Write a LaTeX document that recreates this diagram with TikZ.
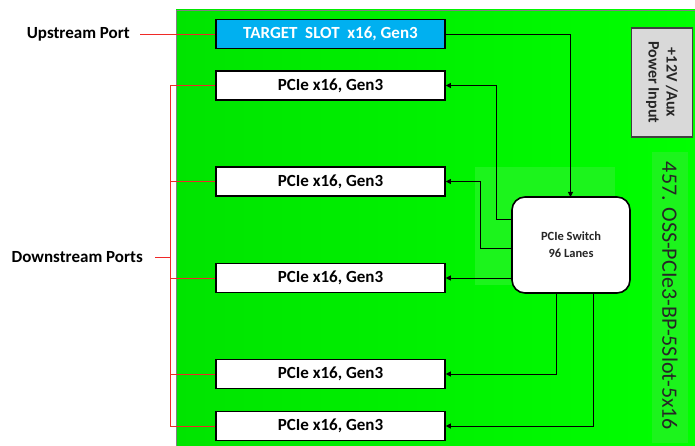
\documentclass[tikz,border=0pt]{standalone}
\usepackage{fontspec}
\setmainfont{Carlito}
\usetikzlibrary{arrows.meta}
\definecolor{boardL}{RGB}{0,228,0}
\definecolor{boardR}{RGB}{0,255,0}
\definecolor{hilite}{RGB}{28,244,28}
\definecolor{slotblue}{RGB}{0,176,240}
\definecolor{pwrgray}{RGB}{217,217,217}
\definecolor{lblred}{RGB}{240,40,40}
\tikzset{
  slotbox/.style={draw=black, line width=1.6pt, fill=white, minimum width=229pt, minimum height=29pt, inner sep=0pt, font=\fontsize{17}{19}\selectfont\bfseries},
  lbl/.style={font=\fontsize{17}{19}\selectfont\bfseries, inner sep=0pt},
  bus/.style={draw=black, line width=0.8pt, -{Triangle[length=5pt,width=5pt]}},
  redline/.style={draw=lblred, line width=0.9pt},
}
\begin{document}
\begin{tikzpicture}[x=1pt,y=-1pt]
\useasboundingbox (0,0) rectangle (695,446);
% board
\shade[left color=boardL, right color=boardR] (176,10) rectangle (695,446);
\draw[gray, line width=0.8pt] (176,446) -- (176,10) -- (695,10);
\fill[hilite] (475,167) rectangle (615,285);
\fill[hilite] (652,152) rectangle (688,443);
% slots
\node[slotbox, fill=slotblue, text=white] (up) at (330.5,34) {TARGET\ \ SLOT\ \ x16, Gen3};
\node[slotbox] (d1) at (330.5,85.5) {PCIe x16, Gen3};
\node[slotbox] (d2) at (330.5,181.5) {PCIe x16, Gen3};
\node[slotbox] (d3) at (330.5,278) {PCIe x16, Gen3};
\node[slotbox] (d4) at (330.5,374) {PCIe x16, Gen3};
\node[slotbox] (d5) at (330.5,426) {PCIe x16, Gen3};
% switch
\node[draw=black, line width=1.6pt, fill=white, rounded corners=13pt, minimum width=118pt, minimum height=96pt, align=center, font=\fontsize{12.5}{17}\selectfont\bfseries, text=black!85] (sw) at (571,245) {PCIe Switch\\96 Lanes};
% power
\node[draw=black!75, line width=1.2pt, fill=pwrgray, minimum width=109pt, minimum height=61pt, rotate=-90, align=center, font=\fontsize{16}{18}\selectfont\bfseries, text=black!85] (pwr) at (662,82.5) {+12V /Aux\\Power Input};
% board name
\node[rotate=-90, font=\fontsize{22}{24}\selectfont, text=black!85, inner sep=0pt] (name) at (670,296) {457. OSS-PCIe3-BP-5Slot-5x16};
% connectors
\coordinate (swt) at (570.5,197);
\draw[bus] (up.east) -| (swt);
\draw[bus] (sw.west |- 0,219) -| (496.5,85.5) -- (d1.east);
\draw[bus] (sw.west |- 0,248) -| (480.5,181.5) -- (d2.east);
\draw[bus] (sw.west |- 0,278) -- (d3.east);
\draw[bus] (sw.south -| 556,0) |- (d4.east);
\draw[bus] (sw.south -| 593,0) |- (d5.east);
% labels
\node[lbl, anchor=east] (uplbl) at (130,34) {Upstream Port};
\node[lbl, anchor=east] (dnlbl) at (143,257) {Downstream Ports};
\coordinate (bus) at (170,257);
\draw[redline] (140,34) -- (up.west);
\draw[redline] (155,257) -- (bus);
\draw[redline] (d1.west) -| (170,85.5) |- (d5.west);
\draw[redline] (170,181.5) -- (d2.west);
\draw[redline] (170,278) -- (d3.west);
\draw[redline] (170,374) -- (d4.west);
\end{tikzpicture}
\end{document}
